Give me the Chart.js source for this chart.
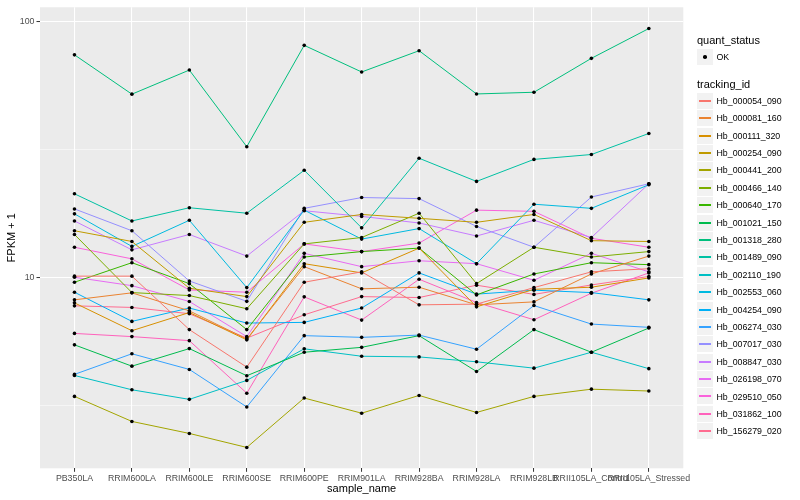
<!DOCTYPE html>
<html>
<head>
<meta charset="utf-8">
<script src="https://cdn.jsdelivr.net/npm/chart.js@4.4.1/dist/chart.umd.min.js"></script>
<style>
  body { margin: 0; background: #fff; font-family: "Liberation Sans", Arial, sans-serif; }
  #wrap { position: relative; width: 800px; height: 500px; }
  #legend { position: absolute; left: 0; top: 0; width: 800px; height: 500px; pointer-events: none; }
  .ltitle { position: absolute; left: 697px; font-size: 11px; line-height: 13px; color: #000; }
  .key { position: absolute; left: 697px; width: 16px; height: 16px; background: #f2f2f2; }
  .key .seg { display: block; position: absolute; left: 2px; width: 12px; top: 7px; height: 2px; }
  .key .dot { display: block; position: absolute; left: 6px; top: 6px; width: 3.6px; height: 3.6px; border-radius: 50%; background: #000; }
  .ltext { position: absolute; left: 716.5px; font-size: 8.8px; line-height: 10px; color: #000; white-space: nowrap; }
</style>
</head>
<body>
<div id="wrap">
  <canvas id="chart" width="800" height="500"></canvas>
  <div id="legend"></div>
</div>
<script>
// --- data (FPKM + 1) ---
const samples = ['PB350LA', 'RRIM600LA', 'RRIM600LE', 'RRIM600SE', 'RRIM600PE', 'RRIM901LA',
                 'RRIM928BA', 'RRIM928LA', 'RRIM928LB', 'RRII105LA_Control', 'RRII105LA_Stressed'];

const trackingIds = ['Hb_000054_090', 'Hb_000081_160', 'Hb_000111_320', 'Hb_000254_090', 'Hb_000441_200',
                     'Hb_000466_140', 'Hb_000640_170', 'Hb_001021_150', 'Hb_001318_280', 'Hb_001489_090',
                     'Hb_002110_190', 'Hb_002553_060', 'Hb_004254_090', 'Hb_006274_030', 'Hb_007017_030',
                     'Hb_008847_030', 'Hb_026198_070', 'Hb_029510_050', 'Hb_031862_100', 'Hb_156279_020'];

const hb000054 = [10.1, 10.1, 6.24, 4.45, 9.56, 10.5, 7.80, 7.85, 9.11, 10.5, 10.8];
const hb000081 = [8.16, 8.69, 7.39, 5.73, 11.0, 9.01, 9.14, 7.80, 8.01, 10.3, 12.1];
const hb000111 = [7.94, 6.18, 7.28, 5.69, 11.3, 10.4, 13.0, 7.66, 8.97, 9.14, 9.94];
const hb000254 = [15.2, 13.8, 9.06, 8.40, 16.4, 17.6, 17.0, 16.4, 17.6, 13.9, 13.8];
const hb000441 = [3.42, 2.73, 2.45, 2.16, 3.37, 2.94, 3.45, 2.96, 3.42, 3.65, 3.59];
const hb000466 = [14.7, 8.71, 8.48, 7.53, 13.5, 14.3, 17.8, 9.44, 13.1, 12.0, 12.6];
const hb000640 = [9.56, 11.4, 9.44, 6.24, 12.0, 12.6, 13.0, 8.53, 10.3, 11.4, 11.2];
const hb001021 = [5.44, 4.49, 5.26, 4.12, 5.09, 5.32, 5.91, 4.28, 6.24, 5.09, 6.33];
const hb001318 = [74.1, 52.0, 64.6, 32.4, 80.7, 63.5, 76.9, 52.1, 52.9, 71.8, 93.9];
const hb001489 = [21.2, 16.6, 18.7, 17.8, 26.2, 15.6, 29.2, 23.7, 28.9, 30.2, 36.5];
const hb002110 = [4.13, 3.63, 3.33, 3.95, 5.25, 4.91, 4.88, 4.67, 4.41, 5.09, 4.39];
const hb002553 = [17.7, 13.2, 16.7, 9.11, 18.3, 14.1, 15.5, 11.3, 19.3, 18.6, 23.0];
const hb004254 = [8.74, 6.72, 7.58, 6.62, 6.66, 7.58, 10.4, 8.59, 8.90, 8.71, 8.16];
const hb006274 = [4.17, 5.02, 4.36, 3.11, 5.91, 5.82, 5.94, 5.23, 7.75, 6.56, 6.37];
const hb007017 = [18.5, 15.2, 9.67, 8.05, 18.6, 20.5, 20.3, 15.8, 13.1, 20.6, 23.2];
const hb008847 = [16.6, 12.8, 14.7, 12.1, 18.2, 17.3, 16.3, 14.5, 16.7, 14.3, 23.2];
const hb026198 = [10.0, 9.27, 8.04, 5.86, 12.4, 11.0, 11.6, 11.3, 9.73, 12.4, 10.5];
const hb029510 = [13.1, 11.8, 8.92, 8.74, 13.5, 12.6, 13.6, 18.3, 18.1, 14.2, 13.1];
const hb031862 = [6.03, 5.86, 5.65, 3.52, 8.38, 6.80, 9.82, 7.97, 6.82, 8.66, 10.4];
const hb156279 = [7.73, 7.62, 7.20, 5.78, 7.13, 8.40, 8.33, 9.31, 8.57, 9.33, 10.07];

const yTicks = [Math.sqrt(10), 10, Math.sqrt(1000), 100];
const yLabelled = [10, 100];

const series = [hb000054, hb000081, hb000111, hb000254, hb000441, hb000466, hb000640, hb001021,
                hb001318, hb001489, hb002110, hb002553, hb004254, hb006274, hb007017, hb008847,
                hb026198, hb029510, hb031862, hb156279];

// ggplot hue palette for 20 levels
const colors = ['#F8766D', '#EA8331', '#D89000', '#C09B00', '#A3A500', '#7CAE00', '#39B600', '#00BB4E',
                '#00BF7D', '#00C1A3', '#00BFC4', '#00BAE0', '#00B0F6', '#35A2FF', '#9590FF', '#C77CFF',
                '#E76BF3', '#FA62DB', '#FF62BC', '#FF6C91'];

const toPoints = vals => vals.map((v, i) => ({ x: i, y: v }));

const lineSets = series.map((vals, k) => ({
    label: trackingIds[k],
    data: toPoints(vals),
    borderColor: colors[k],
    borderWidth: 1,
    pointRadius: 0,
    tension: 0,
    order: 1
}));

const pointSets = series.map((vals, k) => ({
    label: trackingIds[k] + ' OK',
    data: toPoints(vals),
    showLine: false,
    pointRadius: 1.8,
    pointBackgroundColor: '#000',
    pointBorderWidth: 0,
    order: 0
}));

// grey panel like ggplot
const panelBg = {
    id: 'panelBg',
    beforeDraw(chart) {
        const { ctx, chartArea: a } = chart;
        ctx.save();
        ctx.fillStyle = '#ebebeb';
        ctx.fillRect(a.left, a.top, a.right - a.left, a.bottom - a.top);
        ctx.restore();
    }
};

Chart.defaults.font.family = "'Liberation Sans', Arial, sans-serif";

const isMajorY = v => yLabelled.some(t => Math.abs(t - v) < 1e-6);

new Chart(document.getElementById('chart'), {
    type: 'line',
    data: { datasets: [...pointSets, ...lineSets] },
    options: {
        responsive: false,
        animation: false,
        layout: { padding: { top: 5, right: 116.7, left: 0, bottom: 0 } },
        plugins: { legend: { display: false }, tooltip: { enabled: false } },
        scales: {
            x: {
                type: 'linear',
                min: -0.6,
                max: 10.6,
                afterBuildTicks: s => { s.ticks = samples.map((_, i) => ({ value: i })); },
                afterFit: s => { s.height = 31.7; },
                border: { display: false },
                grid: { color: '#fff', lineWidth: 1.07, tickColor: '#333', tickLength: 3.5, tickWidth: 1 },
                ticks: {
                    autoSkip: false, maxRotation: 0, minRotation: 0, padding: 1.5,
                    color: '#4d4d4d', font: { size: 8.8 },
                    callback: v => samples[v] ?? ''
                },
                title: { display: true, text: 'sample_name', color: '#000', font: { size: 11 }, padding: { top: 0, bottom: 4 } }
            },
            y: {
                type: 'logarithmic',
                min: 1.79,
                max: 113.7,
                afterBuildTicks: s => { s.ticks = yTicks.map(v => ({ value: v })); },
                afterFit: s => { s.width = 40; },
                border: { display: false },
                grid: {
                    color: '#fff',
                    lineWidth: c => isMajorY(c.tick.value) ? 1.07 : 0.53,
                    tickColor: c => isMajorY(c.tick.value) ? '#333' : 'rgba(0,0,0,0)',
                    tickLength: 3.5,
                    tickWidth: 1
                },
                ticks: {
                    padding: 2, color: '#4d4d4d', font: { size: 8.8 },
                    callback: v => isMajorY(v) ? String(Math.round(v)) : ''
                },
                title: { display: true, text: 'FPKM + 1', color: '#000', font: { size: 11 }, padding: { top: 5, bottom: 0 } }
            }
        }
    },
    plugins: [panelBg]
});

// --- legend (ggplot style, two guides) ---
const legend = document.getElementById('legend');
let html = '<div class="ltitle" style="top:33.5px">quant_status</div>';
html += '<div class="key" style="top:49px"><span class="dot"></span></div>';
html += '<div class="ltext" style="top:52px">OK</div>';
html += '<div class="ltitle" style="top:77.5px">tracking_id</div>';
trackingIds.forEach((id, k) => {
    const cy = 100.7 + k * 17.4;
    const top = Math.round(cy - 8);
    html += `<div class="key" style="top:${top}px"><span class="seg" style="background-color:${colors[k]}"></span></div>`;
    html += `<div class="ltext" style="top:${(cy - 5).toFixed(1)}px">${id}</div>`;
});
legend.innerHTML = html;
</script>
</body>
</html>
